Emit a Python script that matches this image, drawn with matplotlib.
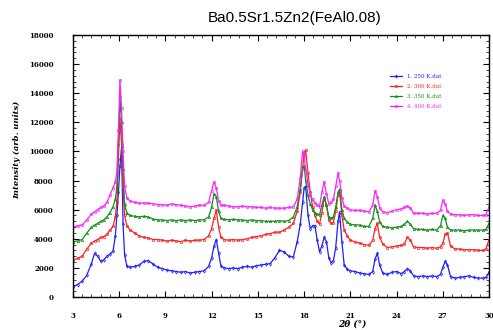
import numpy as np
import matplotlib
matplotlib.use("Agg")
import matplotlib.pyplot as plt
from matplotlib.ticker import MultipleLocator, AutoMinorLocator

# 2theta grid (deg), denser around the reflections
two_theta = [
    3.0, 3.3, 3.6, 3.9, 4.2, 4.4, 4.6, 4.8, 5.0, 5.2,
    5.4, 5.6, 5.75, 5.85, 5.95, 6.05, 6.15, 6.25, 6.35, 6.5,
    6.7, 7.0, 7.3, 7.6, 7.9, 8.2, 8.5, 8.8, 9.1, 9.4,
    9.7, 10.0, 10.3, 10.6, 10.9, 11.2, 11.5, 11.8, 12.0, 12.15,
    12.3, 12.45, 12.6, 12.8, 13.1, 13.4, 13.7, 14.0, 14.3, 14.6,
    14.9, 15.2, 15.5, 15.8, 16.1, 16.4, 16.7, 17.0, 17.3, 17.55,
    17.75, 17.9, 18.0, 18.1, 18.25, 18.4, 18.55, 18.7, 18.85, 19.0,
    19.15, 19.3, 19.45, 19.6, 19.75, 19.9, 20.05, 20.2, 20.3, 20.45,
    20.6, 20.8, 21.0, 21.3, 21.6, 21.9, 22.2, 22.45, 22.6, 22.75,
    22.9, 23.1, 23.4, 23.7, 24.0, 24.3, 24.5, 24.7, 24.9, 25.1,
    25.4, 25.7, 26.0, 26.3, 26.6, 26.85, 27.0, 27.15, 27.3, 27.5,
    27.8, 28.1, 28.4, 28.7, 29.0, 29.3, 29.6, 29.8, 30.0,
]

int_1 = [
    700, 850, 1100, 1500, 2300, 3000, 2800, 2450, 2550, 2800,
    2950, 3150, 4200, 5600, 7200, 9000, 10300, 5000, 2900, 2100,
    2050, 2100, 2200, 2450, 2500, 2250, 2050, 1950, 1850, 1800,
    1750, 1700, 1750, 1650, 1700, 1750, 1800, 2100, 2700, 3500,
    3950, 3000, 2150, 2000, 1950, 2000, 1950, 2050, 2100, 2050,
    2150, 2200, 2250, 2300, 2700, 3200, 3100, 2800, 2750, 3800,
    5000, 6500, 7500, 7600, 5600, 4700, 4900, 4900, 3900, 3100,
    3500, 4100, 3800, 2700, 2350, 2500, 3400, 5200, 5850, 3800,
    2200, 1900, 1800, 1750, 1650, 1600, 1550, 1750, 2600, 3000,
    2200, 1650, 1550, 1700, 1750, 1600, 1750, 1950, 1800, 1450,
    1400, 1450, 1400, 1450, 1400, 1550, 2050, 2450, 2200, 1400,
    1300, 1350, 1400, 1450, 1350, 1300, 1300, 1350, 1700,
]

int_2 = [
    2550, 2650, 2800, 3300, 3700, 3850, 3950, 4100, 4150, 4300,
    4600, 4850, 5500, 6500, 9500, 12300, 10500, 7600, 5600, 4900,
    4600, 4400, 4200, 4100, 4050, 3950, 3950, 3900, 3850, 3900,
    3850, 3800, 3900, 3850, 3900, 3900, 3950, 4200, 4700, 5400,
    5950, 4800, 4100, 3950, 3900, 3950, 3900, 3950, 4000, 4100,
    4150, 4200, 4300, 4350, 4450, 4450, 4600, 4800, 5050, 5900,
    7200, 8800, 9900, 10100, 8500, 7200, 6200, 5600, 5200, 5000,
    5800, 6800, 6300, 5300, 5050, 5100, 5900, 7000, 7300, 5600,
    4600, 4200, 3900, 3800, 3700, 3600, 3550, 3900, 4700, 5050,
    4100, 3650, 3400, 3450, 3500, 3550, 3650, 4100, 3900, 3450,
    3400, 3400, 3350, 3400, 3350, 3450, 3700, 4300, 4400, 3500,
    3300, 3300, 3250, 3250, 3250, 3200, 3200, 3300, 3950,
]

int_3 = [
    3800, 3850, 3950, 4400, 4800, 4950, 5050, 5200, 5300, 5500,
    5800, 6200, 6700, 7600, 10500, 13800, 12000, 8800, 6400, 5750,
    5600, 5550, 5500, 5550, 5500, 5350, 5300, 5300, 5250, 5300,
    5250, 5300, 5250, 5300, 5250, 5300, 5300, 5500, 6200, 7100,
    6900, 5900, 5400, 5350, 5300, 5350, 5300, 5300, 5250, 5300,
    5250, 5250, 5200, 5200, 5200, 5250, 5200, 5250, 5500, 6200,
    7400, 8900, 9000, 8000, 7000, 6400, 6000, 5800, 5700, 5650,
    6300, 6900, 6300, 5500, 5400, 5500, 6200, 7200, 7400, 6000,
    5400, 5150, 5000, 4950, 4950, 4850, 4850, 5400, 6300, 5900,
    5150, 4850, 4800, 4750, 4800, 4850, 5000, 5200, 5000, 4700,
    4650, 4650, 4600, 4650, 4600, 4900, 5600, 5400, 4800, 4600,
    4600, 4600, 4550, 4600, 4600, 4600, 4600, 4650, 5050,
]

int_4 = [
    4800, 4900, 4950, 5300, 5700, 5850, 6000, 6150, 6250, 6500,
    7000, 7500, 7900, 8600, 11500, 14900, 13000, 10000, 7600, 6800,
    6600, 6500, 6450, 6450, 6450, 6400, 6350, 6350, 6300, 6400,
    6350, 6300, 6250, 6200, 6250, 6300, 6300, 6500, 7300, 7900,
    7500, 6600, 6300, 6300, 6250, 6200, 6200, 6250, 6200, 6200,
    6150, 6150, 6100, 6150, 6100, 6100, 6100, 6150, 6200, 6700,
    8200, 10000, 9700, 8800, 7800, 7000, 6700, 6450, 6300, 6200,
    7200, 7900, 7100, 6400, 6500, 6700, 7600, 8500, 8000, 6800,
    6250, 6100, 6000, 5950, 5950, 5900, 5850, 6300, 7300, 6900,
    6100, 5850, 5800, 5900, 6000, 6050, 6150, 6250, 6100, 5750,
    5750, 5750, 5700, 5750, 5750, 5950, 6650, 6400, 5900, 5700,
    5650, 5650, 5600, 5650, 5650, 5600, 5600, 5650, 6200,
]

labels = ["1. 250 K.dat", "2. 300 K.dat", "3. 350 K.dat", "4. 400 K.dat"]
colors = ["#1f1fff", "#ff2020", "#10901a", "#ff20ff"]
markers = ["d", "o", "^", "o"]

fig = plt.figure(figsize=(4.93, 3.30), dpi=100)
ax = fig.add_axes([0.148, 0.10, 0.844, 0.794])

for y, lab, c, m in zip([int_1, int_2, int_3, int_4], labels, colors, markers):
    ax.plot(two_theta, y, color=c, lw=0.9, marker=m, ms=1.7,
            mfc="none", mew=0.5, label=lab)

ax.set_xlim(3, 30)
ax.set_ylim(0, 18000)
ax.xaxis.set_major_locator(MultipleLocator(3))
ax.xaxis.set_minor_locator(AutoMinorLocator(5))
ax.yaxis.set_major_locator(MultipleLocator(2000))
ax.yaxis.set_minor_locator(AutoMinorLocator(5))
ax.tick_params(which="both", direction="in", top=True, right=True)
ax.tick_params(which="major", length=4, width=0.8)
ax.tick_params(which="minor", length=2, width=0.5)
ax.tick_params(axis="x", which="major", pad=11)
ax.tick_params(axis="y", which="major", pad=14)
for s in ax.spines.values():
    s.set_linewidth(1.0)

for t in ax.get_xticklabels() + ax.get_yticklabels():
    t.set_fontfamily("DejaVu Serif")
    t.set_fontweight("bold")
    t.set_fontsize(5)

ax.set_xlabel("2θ (°)", family="DejaVu Serif", style="italic",
              weight="bold", fontsize=6.5)
ax.xaxis.set_label_coords(0.67, -0.085)
ax.set_ylabel("Intensity (arb. units)", family="DejaVu Serif",
              style="italic", weight="bold", fontsize=6)
ax.yaxis.set_label_coords(-0.125, 0.56)

fig.text(0.598, 0.945, "Ba0.5Sr1.5Zn2(FeAl0.08)", family="Liberation Sans",
         fontsize=11, ha="center", va="center")

leg = ax.legend(loc="upper left", bbox_to_anchor=(0.75, 0.87), frameon=False,
                handlelength=2.2, labelspacing=0.9,
                labelcolor="linecolor", prop={"family": "DejaVu Serif", "size": 4})

fig.savefig("out.png", dpi=100)
